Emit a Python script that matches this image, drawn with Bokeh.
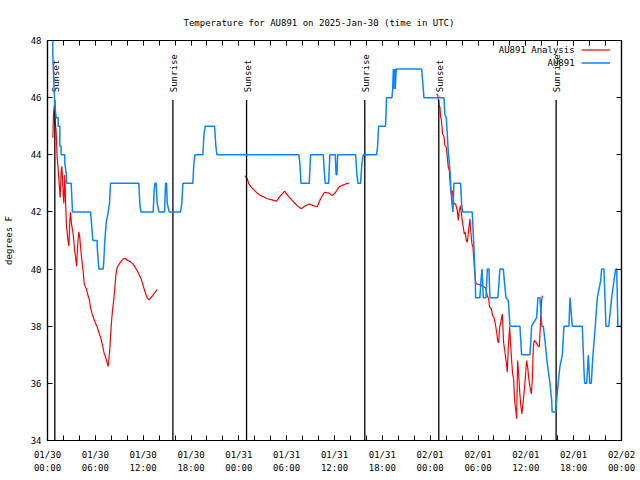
from math import pi
from bokeh.plotting import figure
from bokeh.models import Range1d, FixedTicker, LinearAxis, Legend, LegendItem, Label
from bokeh.embed import file_html
from bokeh.resources import INLINE
from bokeh.core.properties import value

FONT = "DejaVu Sans Mono"

# x values are hours since 2025-01-30 00:00 UTC
tick_hours = [0, 6, 12, 18, 24, 30, 36, 42, 48, 54, 60, 66, 72]
tick_labels = ["01/30\n00:00", "01/30\n06:00", "01/30\n12:00", "01/30\n18:00",
               "01/31\n00:00", "01/31\n06:00", "01/31\n12:00", "01/31\n18:00",
               "02/01\n00:00", "02/01\n06:00", "02/01\n12:00", "02/01\n18:00",
               "02/02\n00:00"]
minor_hours = list(range(0, 73, 2))
y_ticks = [34, 36, 38, 40, 42, 44, 46, 48]

# AU891 observations
obs_hours = [0.67, 0.67, 0.79, 0.92, 1.09, 1.34, 1.34, 1.55, 1.55, 1.71, 1.71, 2.17, 2.17, 2.38, 2.38,
             2.97, 3.14, 5.40, 5.52, 5.69, 6.23, 6.23, 6.44, 6.98, 7.07, 7.19, 7.36, 7.61, 7.78, 7.90,
             11.46, 11.58, 11.71, 13.26, 13.38, 13.47, 13.63, 13.76, 13.97, 14.68, 14.81, 14.93, 15.02,
             15.27, 16.69, 16.85, 16.98, 18.23, 18.36, 18.49, 19.49, 19.62, 19.78, 20.95, 21.12, 21.25,
             31.53, 31.66, 31.79, 32.83, 33.00, 34.59, 34.75, 34.84, 35.26, 35.42, 36.10, 36.20, 36.30,
             36.40, 38.65, 38.81, 38.94, 39.27, 39.44, 39.61, 41.28, 41.41, 41.53, 42.41, 42.53, 43.20,
             43.30, 43.38, 43.45, 43.55, 43.62, 43.75, 46.93, 47.14, 47.22,
             49.73, 49.85, 50.02, 50.15, 50.23, 50.40, 50.52, 50.61, 50.73, 50.85, 50.98, 51.82, 51.94,
             52.07, 53.28, 53.41, 53.49, 53.58, 53.66, 53.70, 54.24, 54.37, 54.50, 54.58, 54.66, 55.00,
             55.17, 55.37, 55.50, 56.50, 56.75, 57.17, 57.51, 57.80, 58.01, 59.26, 59.47, 60.52, 60.73,
             61.35, 61.52, 61.77, 62.02, 62.19, 62.36, 62.69, 63.03, 63.24, 63.30, 63.74, 63.95, 64.28,
             64.58, 64.78, 65.41, 65.54, 65.83, 67.08, 67.29, 67.38, 67.63, 67.84, 68.01, 68.21, 68.42,
             68.63, 68.97, 69.39, 69.51, 69.80, 70.05, 70.40, 70.77, 71.06, 71.27, 71.40, 71.55, 72.0]
obs_temps = [48, 47.5, 46.6, 45.7, 45.3, 45.3, 45, 45, 44.3, 44.3, 44, 44, 43.7, 43.3, 43,
             43, 42, 42, 41.6, 41, 41, 40.8, 40, 40, 40.3, 41, 41.6, 42, 42.3, 43,
             43, 42.3, 42, 42, 42.75, 43, 43, 42.3, 42, 42, 43, 43, 42.3,
             42, 42, 42.3, 43, 43, 43.7, 44, 44, 44.7, 45, 45, 44.3, 44,
             44, 43.7, 43, 43, 44, 44, 43.3, 43, 43, 44, 44, 43.3, 43.3,
             44, 44, 43.3, 43, 43, 43.7, 44, 44, 44.3, 45, 45, 46, 46,
             46.3, 47, 46.3, 47, 46.3, 47, 47, 46.3, 46,
             46, 45.4, 45.3, 44.7, 44.3, 43.7, 43.3, 42.75, 42.3, 42, 43, 43, 42.3,
             42, 42, 41.2, 40.8, 40.1, 39.6, 39, 39, 39.6, 40, 39.6, 39, 39,
             40, 40, 39, 39, 40, 40, 39, 38.9, 38, 38, 37, 37, 38,
             38.3, 39, 39, 38, 38, 37.6, 36.7, 36, 35.4, 35, 35, 35.7, 36.6,
             37, 38, 38, 39, 38, 38, 36.5, 36, 36, 37, 36, 36, 37,
             37.7, 39, 39.6, 40, 40, 38, 38, 39, 39.6, 40, 40, 38, 38]

# AU891 Analysis (three separate runs)
ana1_hours = [0.67, 0.75, 0.88, 0.96, 1.09, 1.21, 1.34, 1.46, 1.59, 1.71, 1.80, 1.92, 2.05, 2.17, 2.26,
              2.38, 2.55, 2.68, 2.80, 2.89, 3.00, 3.18, 3.30, 3.43, 3.55, 3.64, 3.80, 3.93, 4.05, 4.20,
              4.35, 4.48, 4.60, 4.73, 4.89, 5.06, 5.23, 5.40, 5.60, 5.81, 6.02, 6.23, 6.44, 6.65, 6.86,
              7.07, 7.28, 7.40, 7.61, 7.69, 7.82, 7.99, 8.15, 8.32, 8.45, 8.57, 8.74, 8.99, 9.24, 9.49,
              9.75, 10.0, 10.33, 10.66, 11.0, 11.25, 11.50, 11.75, 12.0, 12.25, 12.51, 12.76, 13.01,
              13.26, 13.51, 13.76]
ana1_temps = [44.6, 45.4, 45.8, 45.2, 44.8, 43.9, 43.5, 43.0, 42.5, 43.4, 43.6, 42.9, 42.3, 43.3, 42.4,
              41.5, 41.05, 40.8, 41.7, 42.0, 41.6, 41.3, 41.0, 40.6, 40.35, 40.1, 40.9, 41.3, 41.1, 40.6,
              40.2, 39.9, 39.5, 39.4, 39.3, 39.1, 38.95, 38.66, 38.43, 38.26, 38.1, 37.97, 37.79, 37.62,
              37.38, 37.09, 36.92, 36.8, 36.59, 36.8, 37.2, 38.02, 38.55, 38.95, 39.36, 39.77, 40.06,
              40.17, 40.27, 40.35, 40.38, 40.31, 40.27, 40.2, 40.06, 39.94, 39.8, 39.65, 39.42, 39.19,
              38.99, 38.92, 39.01, 39.1, 39.19, 39.28]
ana2_hours = [24.76, 25.05, 25.26, 25.55, 25.89, 26.31, 26.73, 27.14, 27.56, 28.19, 28.73, 29.23, 29.74,
              30.28, 30.91, 31.33, 31.83, 32.25, 32.83, 33.33, 33.84, 34.25, 34.75, 35.30, 35.71, 36.14,
              36.55, 36.97, 37.39, 37.81]
ana2_temps = [43.27, 43.16, 42.98, 42.87, 42.77, 42.66, 42.57, 42.52, 42.46, 42.42, 42.38, 42.57, 42.73,
              42.53, 42.34, 42.22, 42.11, 42.2, 42.28, 42.22, 42.18, 42.46, 42.69, 42.66, 42.57, 42.69,
              42.87, 42.93, 42.98, 43.0]
ana3_hours = [48.81, 48.97, 49.10, 49.23, 49.31, 49.39, 49.48, 49.56, 49.73, 49.85, 50.02, 50.15, 50.27,
              50.40, 50.48, 50.56, 50.65, 50.77, 50.90, 50.98, 51.19, 51.40, 51.53, 51.65, 51.82, 51.99,
              52.15, 52.28, 52.40, 52.53, 52.66, 52.82, 52.99, 53.12, 53.24, 53.37, 53.45, 53.53, 53.66,
              53.78, 54.12, 54.54, 54.96, 55.16, 55.33, 55.46, 55.67, 55.83, 56.00, 56.17, 56.34, 56.46,
              56.59, 56.71, 56.84, 57.05, 57.21, 57.38, 57.55, 57.67, 57.80, 57.97, 58.09, 58.22, 58.34,
              58.47, 58.59, 58.72, 58.85, 58.97, 59.10, 59.22, 59.35, 59.51, 59.68, 59.85, 59.97, 60.10,
              60.23, 60.35, 60.52, 60.69, 60.81, 60.94, 61.06, 61.27, 61.48, 61.69, 61.86, 61.98, 62.07]
ana3_temps = [46.13, 46.08, 45.72, 45.67, 45.32, 45.26, 44.97, 44.73, 44.64, 44.32, 44.27, 43.92, 43.57,
              43.45, 43.10, 42.81, 42.63, 42.75, 42.4, 42.28, 42.28, 42.05, 41.7, 42.05, 42.22, 41.76,
              41.47, 41.23, 41.29, 41.0, 40.94, 41.35, 41.76, 41.23, 40.88, 40.77, 40.42, 40.12, 39.6,
              39.48, 39.46, 39.42, 39.34, 39.07, 38.96, 38.67, 38.61, 38.37, 38.32, 38.08, 37.79, 37.5,
              37.41, 37.97, 38.1, 38.43, 37.44, 37.09, 36.74, 36.39, 37.27, 37.97, 37.38, 36.8, 36.33,
              36.16, 35.4, 35.11, 34.76, 36.8, 36.33, 35.75, 35.28, 34.93, 35.4, 35.87, 36.33, 36.8,
              36.57, 36.22, 35.87, 35.63, 36.1, 37.27, 37.5, 37.44, 37.33, 37.27, 38.26, 38.9, 39.07]

# Sunrise / sunset markers
event_hours = [0.92, 15.73, 24.97, 39.80, 49.08, 63.80]
event_names = ["Sunset", "Sunrise", "Sunset", "Sunrise", "Sunset", "Sunrise"]
marker_top = 45.92
label_start = 46.19

RED = "#ff0000"
BLUE = "#0a84ff"

p = figure(width=640, height=480, x_range=Range1d(0, 72), y_range=Range1d(34, 48),
           output_backend="svg", toolbar_location=None,
           title="Temperature for AU891 on 2025-Jan-30 (time in UTC)")
p.min_border_left = 47
p.min_border_right = 19
p.min_border_top = 40
p.min_border_bottom = 40
p.outline_line_color = "black"
p.outline_line_width = 1.2
p.xgrid.visible = False
p.ygrid.visible = False

p.title.text_font = FONT
p.title.text_font_size = "9px"
p.title.text_font_style = "normal"
p.title.text_color = "black"
p.title.align = "left"
p.title.offset = 136
p.title.standoff = 25

xt = FixedTicker(ticks=tick_hours, minor_ticks=minor_hours)
yt = FixedTicker(ticks=y_ticks, minor_ticks=[])

xa = p.xaxis[0]
xa.ticker = xt
xa.major_label_overrides = {h: lab for h, lab in zip(tick_hours, tick_labels)}
ya = p.yaxis[0]
ya.ticker = yt
ya.axis_label = "degrees F"
for ax in (xa, ya):
    ax.major_label_text_font = FONT
    ax.major_label_text_font_size = "9px"
    ax.major_label_text_color = "black"
    ax.axis_label_text_font = FONT
    ax.axis_label_text_font_size = "9px"
    ax.axis_label_text_font_style = "normal"
    ax.axis_label_text_color = "black"
    ax.major_tick_in = 5
    ax.major_tick_out = 0
    ax.minor_tick_in = 5
    ax.minor_tick_out = 0
    ax.axis_line_width = 1.2
    ax.major_tick_line_width = 1
    ax.minor_tick_line_width = 1
xa.major_label_standoff = 9
xa.major_label_text_line_height = 1.35
ya.major_label_standoff = 6
ya.axis_label_standoff = 14

top = LinearAxis(ticker=FixedTicker(ticks=tick_hours, minor_ticks=minor_hours),
                 major_label_overrides={h: "" for h in tick_hours},
                 major_label_text_font_size="9px", major_label_standoff=0,
                 major_tick_in=5, major_tick_out=0, minor_tick_in=5, minor_tick_out=0,
                 axis_line_width=1.2)
p.add_layout(top, "above")
right = LinearAxis(ticker=FixedTicker(ticks=y_ticks, minor_ticks=[]),
                   major_label_overrides={t: "" for t in y_ticks},
                   major_label_text_font_size="9px", major_label_standoff=0,
                   major_tick_in=5, major_tick_out=0, minor_tick_in=0, minor_tick_out=0,
                   axis_line_width=1.2)
p.add_layout(right, "right")

r1 = p.line(ana1_hours, ana1_temps, line_color=RED, line_width=1.2)
p.line(ana2_hours, ana2_temps, line_color=RED, line_width=1.2)
p.line(ana3_hours, ana3_temps, line_color=RED, line_width=1.2)

p.segment(x0=event_hours, y0=[34] * len(event_hours), x1=event_hours,
          y1=[marker_top] * len(event_hours), line_color="black", line_width=1.3)
p.text(x=event_hours, y=[label_start] * len(event_hours), text=event_names, angle=pi / 2,
       text_align="left", text_baseline="middle", text_font=value(FONT),
       text_font_size="9px", text_color="black", x_offset=1)

r2 = p.line(obs_hours, obs_temps, line_color=BLUE, line_width=1.5)

legend = Legend(items=[LegendItem(label=value(""), renderers=[r1]),
                       LegendItem(label=value(""), renderers=[r2])],
                location=(534, 371), padding=0, margin=0, spacing=0,
                glyph_width=29, glyph_height=13, label_height=13, label_width=0,
                label_standoff=0, label_text_font_size="9px",
                border_line_alpha=0, background_fill_alpha=0)
p.add_layout(legend)

for txt, yy in (("AU891 Analysis", 47.67), ("AU891", 47.21)):
    p.add_layout(Label(x=66.12, y=yy, text=txt, text_align="right", text_baseline="middle",
                       text_font=FONT, text_font_size="9px", text_color="black"))

open("out.html", "w").write(file_html(p, INLINE))
